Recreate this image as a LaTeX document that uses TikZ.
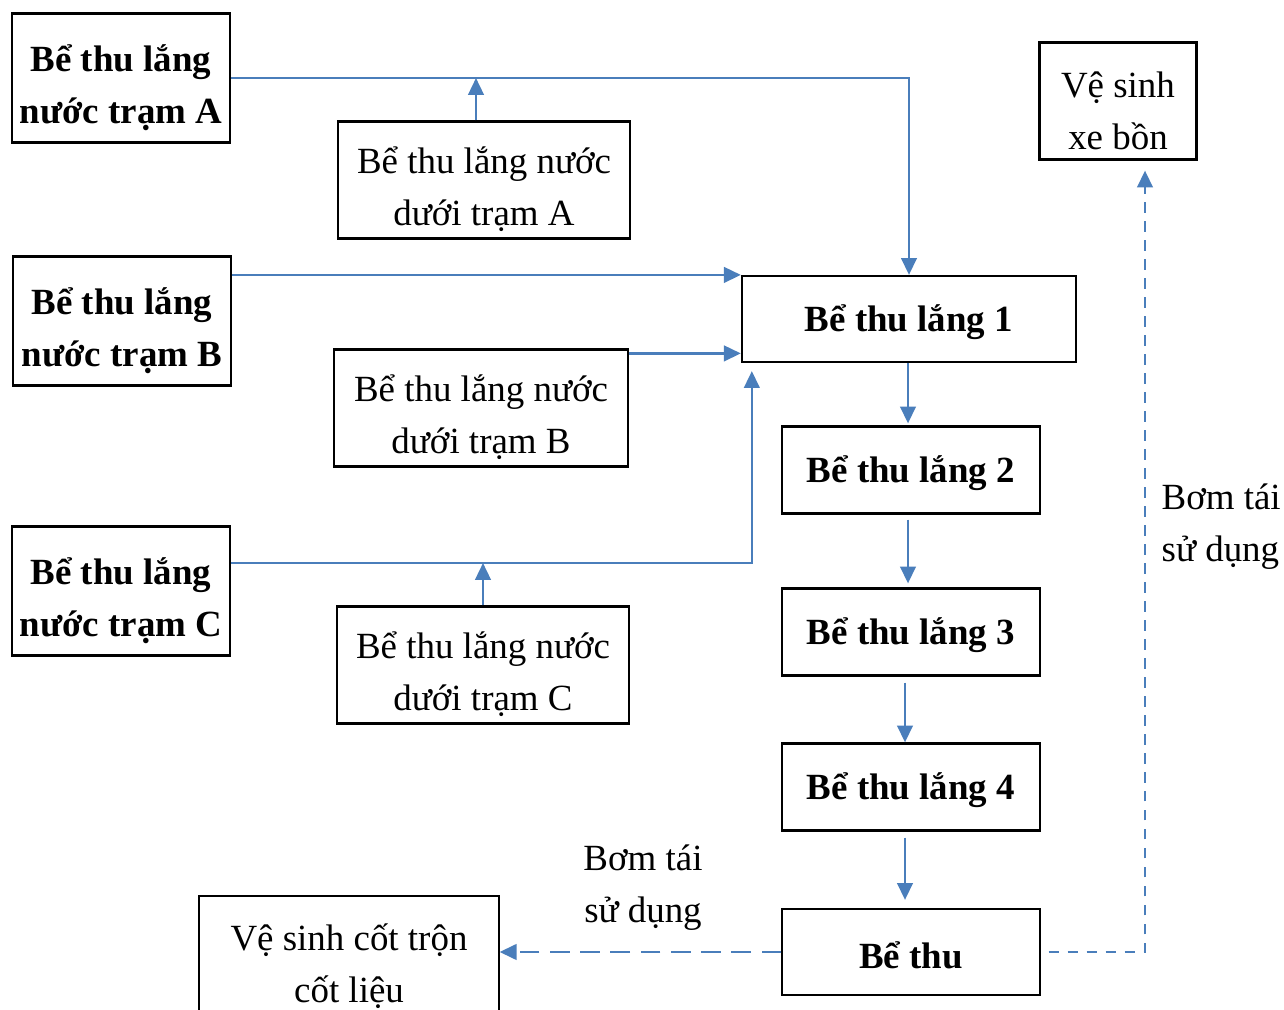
\documentclass[tikz,border=0pt]{standalone}
\usepackage{fontspec}
\setmainfont{Liberation Serif}
\usetikzlibrary{arrows.meta,calc}
\definecolor{flowblue}{RGB}{74,126,187}
\newcommand{\lift}{\rule{0pt}{13pt}}

\begin{document}
\begin{tikzpicture}[x=0.01cm, y=-0.01cm,
  box/.style = {draw, line width=0.6pt, align=center, inner sep=0pt,
                font=\fontsize{10.5}{14.8}\selectfont},
  oneline/.style = {execute at begin node={\rule{0pt}{9.4pt}}},
  bbox/.style = {box, font=\fontsize{10.5}{14.8}\selectfont\bfseries},
  lbl/.style = {inner sep=0pt, font=\fontsize{10.5}{14.8}\selectfont},
  arr/.style = {-{Triangle[length=4.8pt,width=4.4pt]}, flowblue, line width=0.75pt},
  pumplong/.style = {arr, dash pattern=on 5.6pt off 3pt},
  pumpshort/.style = {arr, dash pattern=on 3pt off 2.4pt}
]
  \useasboundingbox (0,0) rectangle (1284,1010);
  \clip (0,0) rectangle (1284,1010);

  % Stations
  \node[bbox, minimum width=2.18cm, minimum height=1.29cm] (stA) at (121,78)  {\lift Bể thu lắng\\nước trạm A};
  \node[bbox, minimum width=2.18cm, minimum height=1.29cm] (stB) at (122,321) {\lift Bể thu lắng\\nước trạm B};
  \node[bbox, minimum width=2.18cm, minimum height=1.29cm] (stC) at (121,591) {\lift Bể thu lắng\\nước trạm C};

  % Lower tanks
  \node[box, minimum width=2.92cm, minimum height=1.17cm] (subA) at (484,180) {\lift Bể thu lắng nước\\dưới trạm A};
  \node[box, minimum width=2.93cm, minimum height=1.17cm] (subB) at (481,408) {\lift Bể thu lắng nước\\dưới trạm B};
  \node[box, minimum width=2.92cm, minimum height=1.17cm] (subC) at (483,665) {\lift Bể thu lắng nước\\dưới trạm C};

  % Settling chain
  \node[bbox, oneline, minimum width=3.34cm, minimum height=0.86cm] (lang1) at (909,319) {Bể thu lắng 1};
  \node[bbox, oneline, minimum width=2.57cm, minimum height=0.87cm] (lang2) at (911,470) {Bể thu lắng 2};
  \node[bbox, oneline, minimum width=2.57cm, minimum height=0.87cm] (lang3) at (911,632) {Bể thu lắng 3};
  \node[bbox, oneline, minimum width=2.57cm, minimum height=0.87cm] (lang4) at (911,787) {Bể thu lắng 4};
  \node[bbox, oneline, minimum width=2.57cm, minimum height=0.86cm] (thu)   at (911,952) {Bể thu};

  % Reuse
  \node[box, minimum width=1.57cm, minimum height=1.17cm] (xe)  at (1118,101) {\lift Vệ sinh\\xe bồn};
  \node[box, minimum width=2.99cm, minimum height=1.22cm] (ctr) at (349,957)  {\lift Vệ sinh cốt trộn\\cốt liệu};

  \node[lbl, align=center] (bomL) at (643,888) {Bơm tái\\sử dụng};
  \node[lbl, align=left, anchor=west] (bomR) at (1161,527) {Bơm tái\\sử dụng};

  % Connections
  \draw[arr] (stA.east) -| (lang1.north);
  \draw[arr] (subA.north -| 476,0) -- (476,0 |- stA.east);

  \draw[arr] (stB.east |- lang1.north west) -- (lang1.north west);
  \coordinate (jB) at ($(subB.north east)+(0,5)$);
  \draw[arr] (jB) -- (lang1.west |- jB);

  \coordinate (jC) at ($(stC.east)+(0,-28)$);
  \draw[arr] (jC) -| ($(lang1.south west)+(11,8)$);
  \draw[arr] (subC.north) -- (subC.north |- jC);

  \draw[arr] (lang1.south -| 908,0) -- ($(lang2.north -| 908,0)+(0,-2)$);
  \draw[arr] ($(lang2.south -| 908,0)+(0,5)$) -- ($(lang3.north -| 908,0)+(0,-4)$);
  \draw[arr] ($(lang3.south -| 905,0)+(0,6)$) -- (lang4.north -| 905,0);
  \draw[arr] ($(lang4.south -| 905,0)+(0,6)$) -- ($(thu.north -| 905,0)+(0,-8)$);

  \draw[pumplong] (thu.west) -- (ctr.east |- thu.west);
  \draw[pumpshort] ($(thu.east)+(8,0)$) -| ($(xe.south)+(27,10)$);

\end{tikzpicture}
\end{document}
